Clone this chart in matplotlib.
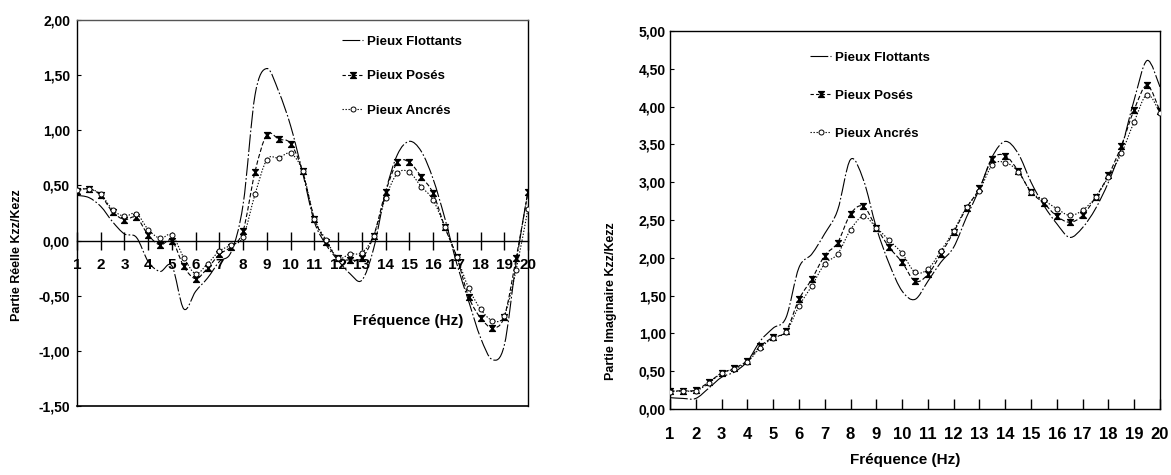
import numpy as np
import matplotlib
matplotlib.use("Agg")
import matplotlib.pyplot as plt
from matplotlib.path import Path
from matplotlib.patches import PathPatch
from matplotlib.lines import Line2D

plt.rcParams['font.family'] = ['Liberation Sans', 'DejaVu Sans']
plt.rcParams['font.weight'] = 'bold'

# --- data ---
freq = [1, 1.5, 2, 2.5, 3, 3.5, 4, 4.5, 5, 5.5, 6, 6.5, 7, 7.5, 8, 8.5, 9, 9.5, 10, 10.5,
        11, 11.5, 12, 12.5, 13, 13.5, 14, 14.5, 15, 15.5, 16, 16.5, 17, 17.5, 18, 18.5,
        19, 19.5, 20]

reel_flottants = [0.41, 0.39, 0.31, 0.17, 0.06, 0.03, -0.19, -0.28, -0.23, -0.62, -0.46, -0.34,
                  -0.19, -0.10, 0.33, 1.32, 1.56, 1.35, 1.04, 0.62, 0.17, -0.04, -0.18, -0.30,
                  -0.36, -0.07, 0.44, 0.78, 0.90, 0.81, 0.56, 0.20, -0.21, -0.55, -0.88, -1.08,
                  -0.95, -0.20, 0.45]
reel_poses = [0.45, 0.47, 0.41, 0.26, 0.19, 0.21, 0.05, -0.04, 0.0, -0.235, -0.345, -0.25,
              -0.125, -0.055, 0.09, 0.625, 0.96, 0.92, 0.88, 0.63, 0.20, -0.015, -0.16, -0.175,
              -0.16, 0.045, 0.44, 0.71, 0.71, 0.58, 0.43, 0.12, -0.15, -0.51, -0.70, -0.79,
              -0.69, -0.16, 0.44]
reel_ancres = [0.46, 0.47, 0.42, 0.28, 0.22, 0.245, 0.10, 0.02, 0.05, -0.155, -0.30, -0.21,
               -0.095, -0.04, 0.035, 0.42, 0.735, 0.75, 0.79, 0.63, 0.20, 0.005, -0.16, -0.12,
               -0.11, 0.045, 0.39, 0.61, 0.62, 0.49, 0.37, 0.12, -0.145, -0.43, -0.62, -0.725,
               -0.68, -0.265, 0.29]

imag_flottants = [0.15, 0.14, 0.14, 0.275, 0.42, 0.49, 0.63, 0.90, 1.07, 1.21, 1.87, 2.05,
                  2.32, 2.63, 3.30, 3.03, 2.40, 1.92, 1.56, 1.45, 1.69, 1.94, 2.14, 2.54,
                  2.91, 3.34, 3.54, 3.38, 3.00, 2.69, 2.45, 2.27, 2.40, 2.65, 3.00, 3.45,
                  4.09, 4.61, 4.26]
imag_poses = [0.24, 0.24, 0.25, 0.355, 0.475, 0.54, 0.64, 0.83, 0.95, 1.03, 1.45, 1.72,
              2.03, 2.20, 2.58, 2.68, 2.40, 2.14, 1.94, 1.69, 1.78, 2.05, 2.34, 2.66,
              2.92, 3.31, 3.35, 3.15, 2.87, 2.72, 2.55, 2.47, 2.56, 2.80, 3.09, 3.48,
              3.96, 4.28, 3.94]
imag_ancres = [0.23, 0.24, 0.24, 0.34, 0.475, 0.53, 0.62, 0.81, 0.94, 1.02, 1.36, 1.63,
               1.92, 2.05, 2.37, 2.55, 2.40, 2.23, 2.06, 1.81, 1.85, 2.09, 2.36, 2.67,
               2.89, 3.23, 3.26, 3.14, 2.87, 2.76, 2.65, 2.56, 2.63, 2.80, 3.07, 3.38,
               3.80, 4.16, 3.92]

series_names = ["Pieux Flottants", "Pieux Posés", "Pieux Ancrés"]
xticks = list(range(1, 21))
reel_yticks = [-1.5, -1.0, -0.5, 0.0, 0.5, 1.0, 1.5, 2.0]
imag_yticks = [0.0, 0.5, 1.0, 1.5, 2.0, 2.5, 3.0, 3.5, 4.0, 4.5, 5.0]

# hourglass marker like the excel one
hourglass = Path([(-1, 1), (1, 1), (-1, -1), (1, -1), (-1, 1)],
                 [Path.MOVETO, Path.LINETO, Path.LINETO, Path.LINETO, Path.CLOSEPOLY])

styles = [
    dict(ls=(0, (16, 2, 1.5, 2)), marker=None),
    dict(ls=(0, (4, 2)), marker=hourglass),
    dict(ls=(0, (1.2, 1.5)), marker='o'),
]


def smooth_path(x, y):
    # excel-like smoothed line: bezier segments through every point
    n = len(x)
    verts = [(x[0], y[0])]
    codes = [Path.MOVETO]
    for i in range(n - 1):
        a = max(i - 1, 0)
        b = min(i + 2, n - 1)
        c1 = (x[i] + (x[i + 1] - x[a]) / 6, y[i] + (y[i + 1] - y[a]) / 6)
        c2 = (x[i + 1] - (x[b] - x[i]) / 6, y[i + 1] - (y[b] - y[i]) / 6)
        verts += [c1, c2, (x[i + 1], y[i + 1])]
        codes += [Path.CURVE4] * 3
    return Path(verts, codes)


def draw_series(ax, ys):
    for y, st in zip(ys, styles):
        patch = PathPatch(smooth_path(freq, y), fill=False, edgecolor='black',
                          lw=0.8, linestyle=st['ls'], transform=ax.transData)
        ax.add_patch(patch)
        if st['marker'] is not None:
            if st['marker'] == 'o':
                ax.plot(freq, y, ls='none', marker='o', ms=3.6, mfc='white',
                        mec='black', mew=0.7, zorder=3)
            else:
                ax.plot(freq, y, ls='none', marker=st['marker'], ms=4.2,
                        color='black', zorder=3)


def legend_handles():
    h = []
    h.append(Line2D([], [], color='black', lw=0.8, ls=styles[0]['ls']))
    h.append(Line2D([], [], color='black', lw=0.8, ls=(0, (3, 2)),
                    marker=hourglass, ms=4.2))
    h.append(Line2D([], [], color='black', lw=0.8, ls=(0, (1.2, 1.5)),
                    marker='o', ms=3.6, mfc='white', mew=0.7))
    return h


def fmt(v):
    return f"{v:.2f}".replace('.', ',')


fig = plt.figure(figsize=(11.71, 4.75), dpi=100)
W, H = 1171, 475

# --- left: real part ---
ax1 = fig.add_axes([77 / W, 1 - 406 / H, 451 / W, 386 / H])
ax1.set_xlim(1, 20)
ax1.set_ylim(-1.5, 2.0)
draw_series(ax1, [reel_flottants, reel_poses, reel_ancres])
ax1.spines['bottom'].set_position(('data', 0))
ax1.plot([0, 1], [0, 0], transform=ax1.transAxes, color='black', lw=1.2, clip_on=False)
for s in ax1.spines.values():
    s.set_linewidth(1.0)
ax1.spines['top'].set_color('#555555')
ax1.set_xticks(xticks)
ax1.set_xticklabels([str(t) for t in xticks], fontsize=11, fontweight='bold')
ax1.tick_params(axis='x', direction='inout', length=13, width=1.0, pad=6)
ax1.set_yticks(reel_yticks)
ax1.set_yticklabels([fmt(v) for v in reel_yticks], fontsize=10, fontweight='bold')
ax1.tick_params(axis='y', direction='in', length=3, pad=5)
ax1.text(0.734, 0.22, "Fréquence (Hz)", transform=ax1.transAxes, ha='center',
         va='center', fontsize=11, fontweight='bold')
ax1.legend(legend_handles(), series_names, loc='upper left',
           bbox_to_anchor=(0.588, 0.96), frameon=False,
           handlelength=1.6, handletextpad=0.3, labelspacing=1.7,
           borderpad=0, borderaxespad=0, prop={'weight': 'bold', 'size': 9.5})
fig.text(17 / W, 1 - 255 / H, "Partie Réelle Kzz/Kezz", rotation=90, ha='center',
         va='center', fontsize=9, fontweight='bold')

# --- right: imaginary part ---
ax2 = fig.add_axes([670 / W, 1 - 409 / H, 490 / W, 378 / H])
ax2.set_xlim(1, 20)
ax2.set_ylim(0, 5)
draw_series(ax2, [imag_flottants, imag_poses, imag_ancres])
for s in ax2.spines.values():
    s.set_linewidth(1.0)
ax2.set_xticks(xticks)
ax2.set_xticklabels([str(t) for t in xticks], fontsize=12, fontweight='bold')
ax2.tick_params(axis='x', direction='in', length=7, width=1.0, pad=13)
ax2.set_yticks(imag_yticks)
ax2.set_yticklabels([fmt(v) for v in imag_yticks], fontsize=10, fontweight='bold')
ax2.tick_params(axis='y', direction='in', length=3, pad=3)
ax2.legend(legend_handles(), series_names, loc='upper left',
           bbox_to_anchor=(0.286, 0.945), frameon=False,
           handlelength=1.6, handletextpad=0.3, labelspacing=1.95,
           borderpad=0, borderaxespad=0, prop={'weight': 'bold', 'size': 9.5})
fig.text(905 / W, 1 - 460 / H, "Fréquence (Hz)", ha='center', va='center',
         fontsize=11, fontweight='bold')
fig.text(611 / W, 1 - 301 / H, "Partie Imaginaire Kzz/Kezz", rotation=90,
         ha='center', va='center', fontsize=9, fontweight='bold')

fig.savefig("out.png", dpi=100)
